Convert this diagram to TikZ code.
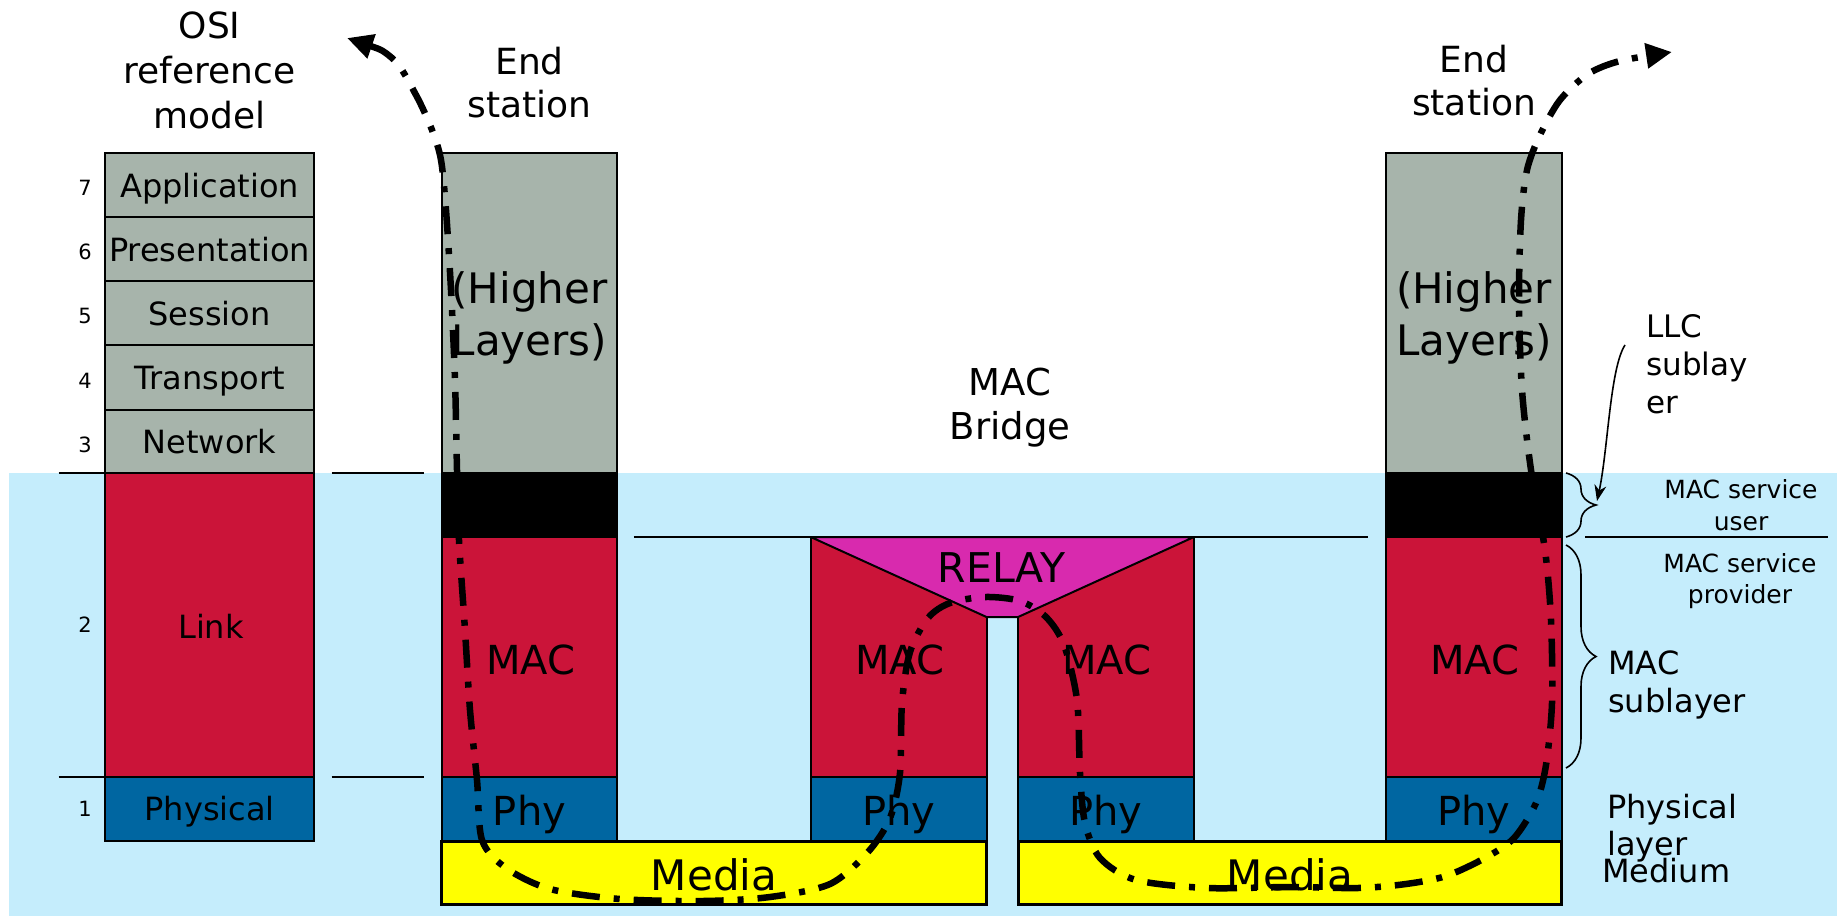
\documentclass[tikz,border=0pt]{standalone}
\usepackage{fontspec}
\setmainfont{DejaVu Sans}
\usetikzlibrary{arrows.meta,decorations.pathreplacing}
\definecolor{bgblue}{HTML}{C5EDFC}
\definecolor{layergray}{HTML}{A7B4AB}
\definecolor{macred}{HTML}{CB1439}
\definecolor{phyblue}{HTML}{0066A1}
\definecolor{relaymag}{HTML}{D82AAE}
\definecolor{medyellow}{HTML}{FFFF00}
\newcommand{\fsz}[1]{\fontsize{#1}{#1}\selectfont}
\begin{document}
\begin{tikzpicture}[x=1pt,y=-1pt,
  cell/.style={draw=black,line width=2pt},
  medbox/.style={draw=black,line width=3pt,fill=medyellow},
  rule/.style={line width=2pt},
  bracestyle/.style={line width=1.6pt,decorate,decoration={brace,amplitude=30pt}},
  flow/.style={line width=6.5pt,dash pattern=on 28pt off 14pt on 6pt off 14pt,
    {Triangle[length=26pt,width=24pt]}-{Triangle[length=26pt,width=24pt]}},
  txt/.style={inner sep=0pt,anchor=base,font=\fsz{#1}},
  txtw/.style={inner sep=0pt,anchor=base west,font=\fsz{#1}}]
\useasboundingbox (0,0) rectangle (1837,916);
\fill[white] (0,0) rectangle (1837,916);
\fill[bgblue] (9.4,473) rectangle (1837,916);
% OSI stack
\filldraw[cell,fill=layergray] (105.4,152.5) rectangle (313.8,216.7);
\filldraw[cell,fill=layergray] (105.4,216.7) rectangle (313.8,281);
\filldraw[cell,fill=layergray] (105.4,281) rectangle (313.8,345.3);
\filldraw[cell,fill=layergray] (105.4,345.3) rectangle (313.8,409.5);
\filldraw[cell,fill=layergray] (105.4,409.5) rectangle (313.8,473);
\filldraw[cell,fill=macred] (105.4,473) rectangle (313.8,777);
\filldraw[cell,fill=phyblue] (105.4,777) rectangle (313.8,841);
% left end station
\filldraw[cell,fill=layergray] (441.7,152.5) rectangle (617.4,473);
\filldraw[cell,fill=black] (441.7,473) rectangle (617.4,537);
\filldraw[cell,fill=macred] (441.7,537) rectangle (617.4,777);
\filldraw[cell,fill=phyblue] (441.7,777) rectangle (617.4,841);
% bridge
\filldraw[cell,fill=macred] (810.7,537) rectangle (986.5,777);
\filldraw[cell,fill=macred] (1018.1,537) rectangle (1193.9,777);
\filldraw[cell,fill=phyblue] (810.7,777) rectangle (986.5,841);
\filldraw[cell,fill=phyblue] (1018.1,777) rectangle (1193.9,841);
\filldraw[cell,fill=relaymag] (810.7,537) -- (1193.9,537) -- (1018.1,617) -- (986.5,617) -- cycle;
% right end station
\filldraw[cell,fill=layergray] (1386,152.5) rectangle (1561.7,473);
\filldraw[cell,fill=black] (1386,473) rectangle (1561.7,537);
\filldraw[cell,fill=macred] (1386,537) rectangle (1561.7,777);
\filldraw[cell,fill=phyblue] (1386,777) rectangle (1561.7,841);
% media
\filldraw[medbox] (441.7,841) rectangle (986.5,904.5);
\filldraw[medbox] (1018.1,841) rectangle (1561.7,904.5);
% rules
\draw[rule] (58.6,473) -- (105.4,473);
\draw[rule] (331.6,473) -- (424,473);
\draw[rule] (58.6,777) -- (105.4,777);
\draw[rule] (331.6,777) -- (424,777);
\draw[rule] (633.8,537) -- (1368.4,537);
\draw[rule] (1585,537) -- (1828,537);
% braces
\draw[bracestyle] (1566,473) -- (1566,537);
\draw[bracestyle] (1566,545) -- (1566,768);
\coordinate (llcA) at (1625,345);
\coordinate (llcTip) at (1597,501);
\draw[line width=1.6pt,-{Stealth[length=16pt,width=12pt]}] (llcA) .. controls (1610,368) and (1608,450) .. (llcTip);
% titles
\node[txt=36] (osiA) at (209.6,38) {OSI};
\node[txt=36] (osiB) at (209.6,83) {reference};
\node[txt=36] (osiC) at (209.6,128) {model};
\node[txt=36] (esLa) at (529.5,74) {End};
\node[txt=36] (esLb) at (529.5,117) {station};
\node[txt=36] (esRa) at (1474,72) {End};
\node[txt=36] (esRb) at (1474,115) {station};
\node[txt=42] (hlLa) at (529.5,303) {(Higher};
\node[txt=42] (hlLb) at (529.5,355) {Layers)};
\node[txt=42] (hlRa) at (1474,303) {(Higher};
\node[txt=42] (hlRb) at (1474,355) {Layers)};
\node[txt=37] (mbA) at (1010,395) {MAC};
\node[txt=37] (mbB) at (1010,439) {Bridge};
% OSI labels
\node[txt=32] (lApp) at (209.6,197) {Application};
\node[txt=32] (lPre) at (209.6,261) {Presentation};
\node[txt=32] (lSes) at (209.6,325) {Session};
\node[txt=32] (lTra) at (209.6,389.5) {Transport};
\node[txt=32] (lNet) at (209.6,453.5) {Network};
\node[txt=32] (lLnk) at (211,638) {Link};
\node[txt=32] (lPhy) at (209.6,820) {Physical};
\node[txt=21] (n7) at (85,195) {7};
\node[txt=21] (n6) at (85,259) {6};
\node[txt=21] (n5) at (85,323) {5};
\node[txt=21] (n4) at (85,388) {4};
\node[txt=21] (n3) at (85,452) {3};
\node[txt=21] (n2) at (85,632) {2};
\node[txt=21] (n1) at (85,816) {1};
% box labels
\node[txt=40] (macA) at (530.7,674) {MAC};
\node[txt=40] (macB) at (899.8,674) {MAC};
\node[txt=40] (macC) at (1107,674) {MAC};
\node[txt=40] (macD) at (1475,674) {MAC};
\node[txt=40] (phyA) at (529.5,825) {Phy};
\node[txt=40] (phyB) at (898.6,825) {Phy};
\node[txt=40] (phyC) at (1106,825) {Phy};
\node[txt=40] (phyD) at (1474,825) {Phy};
\node[txt=42] (medA) at (714,890) {Media};
\node[txt=42] (medB) at (1290,890) {Media};
\node[txt=41] (relay) at (1001.7,582) {RELAY};
% right labels
\node[txtw=31] (llcA1) at (1646,337) {LLC};
\node[txtw=31] (llcA2) at (1646,375) {sublay};
\node[txtw=31] (llcA3) at (1646,413) {er};
\node[txt=25] (msuA) at (1741,498) {MAC service};
\node[txt=25] (msuB) at (1741,530) {user};
\node[txt=25] (mspA) at (1740,572) {MAC service};
\node[txt=25] (mspB) at (1740,603) {provider};
\node[txtw=32] (msA) at (1608,674) {MAC};
\node[txtw=32] (msB) at (1608,712) {sublayer};
\node[txtw=32] (plA) at (1607,818) {Physical};
\node[txtw=32] (plB) at (1607,855) {layer};
\node[txtw=32] (medium) at (1602,882) {Medium};
% flow path
\coordinate (flowStart) at (347,38);
\coordinate (flowEnd) at (1672,52);
\draw[flow] plot[smooth,tension=0.5] coordinates {(flowStart) (392,58) (416,95) (432,130) (441,160) (446,210) (451,290) (455,380) (457,470) (459,540) (465,630) (470,710) (477,780) (482,840) (506,868) (550,889) (620,899) (703,901) (770,897) (830,884) (868,852) (890,818) (900,773) (902,703) (910,652) (928,618) (950,603) (985,597) (1020,601) (1046,617) (1064,645) (1077,700) (1080,773) (1085,823) (1100,858) (1136,880) (1207,888) (1289,887) (1358,888) (1406,884) (1446,876) (1485,858) (1514,838) (1536,803) (1546,765) (1552,703) (1551,620) (1545,550) (1531,470) (1522,390) (1519,300) (1521,220) (1527,170) (1540,135) (1560,100) (1588,74) (1620,61) (flowEnd)};
\end{tikzpicture}
\end{document}
